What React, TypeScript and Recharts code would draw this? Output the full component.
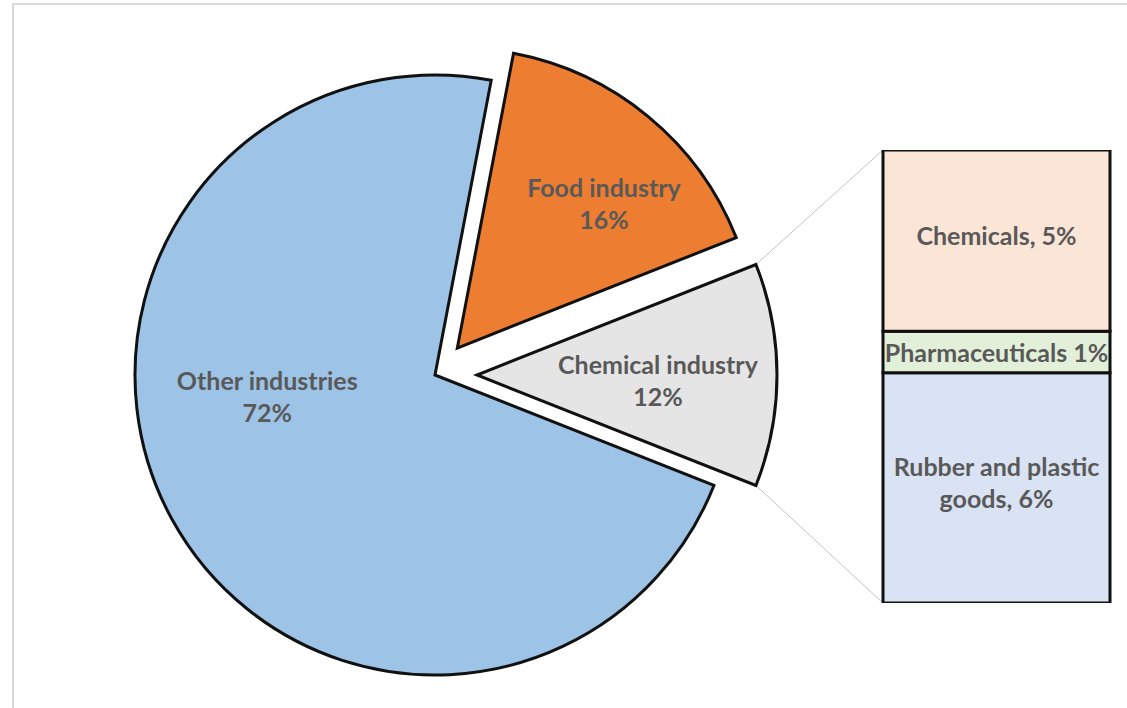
import { PieChart, Pie, Cell, BarChart, Bar, XAxis, YAxis, LabelList } from 'recharts'

const PIE_NAMES = ['Chemical industry', 'Food industry', 'Other industries']
const PIE_VALUES = [12, 16, 72]
const PIE_COLORS = ['#e6e5e5', '#ed7d31', '#9dc3e6']

// stacked bottom -> top
const BAR_NAMES = ['Rubber and plastic goods', 'Pharmaceuticals', 'Chemicals']
const BAR_VALUES = [6.1, 1.1, 4.8]
const BAR_LABELS = [['Rubber and plastic', 'goods, 6%'], ['Pharmaceuticals 1%'], ['Chemicals, 5%']]
const BAR_COLORS = ['#dae3f3', '#e2f0d9', '#fbe5d6']

const W = 1127
const H = 708
const CX = 435
const CY = 375
const R = 300
const EXPLODE = [42, 35, 0]
// label anchor relative to each slice apex: angle (deg), distance (px)
const LABEL_POS = [
  { angle: -1.6, dist: 181 },
  { angle: 44.6, dist: 206 },
  { angle: 187, dist: 169 },
]
const BAR_BOX = { left: 883, top: 150, width: 227, height: 453 }
const TEXT = '#595959'
const FONT = 'Lato, "Open Sans", sans-serif'
const FS = 25
const EDGE = '#111'
const EDGE_W = 3

const pieTotal = PIE_VALUES.reduce((a, b) => a + b, 0)
const START = -(PIE_VALUES[0] / pieTotal) * 180
const rad = (d: number) => (d * Math.PI) / 180

const mids = PIE_VALUES.map((v, i) => {
  const before = PIE_VALUES.slice(0, i).reduce((a, b) => a + b, 0)
  return START + ((before + v / 2) / pieTotal) * 360
})
const centers = mids.map((m, i) => ({
  x: CX + EXPLODE[i] * Math.cos(rad(m)),
  y: CY - EXPLODE[i] * Math.sin(rad(m)),
}))

const pieData = PIE_NAMES.map((name, i) => ({ name, value: PIE_VALUES[i] }))

const barRow: Record<string, number | string> = { name: PIE_NAMES[0] }
BAR_NAMES.forEach((n, i) => (barRow[n] = BAR_VALUES[i]))
const barTotal = BAR_VALUES.reduce((a, b) => a + b, 0)

function PieLabel(k: number) {
  return (p: any) => {
    if (p.index !== k) return null
    const c = centers[k]
    const { angle, dist } = LABEL_POS[k]
    const x = c.x + dist * Math.cos(rad(angle))
    const y = c.y - dist * Math.sin(rad(angle))
    return (
      <text x={x} y={y} textAnchor="middle" fill={TEXT} fontFamily={FONT} fontWeight={700} fontSize={FS}>
        <tspan x={x} y={y - 16} dominantBaseline="central">{PIE_NAMES[k]}</tspan>
        <tspan x={x} y={y + 16} dominantBaseline="central">{`${PIE_VALUES[k]}%`}</tspan>
      </text>
    )
  }
}

function BarLabel(i: number) {
  return (p: any) => {
    const lines = BAR_LABELS[i]
    const x = p.x + p.width / 2
    const cy = p.y + p.height / 2 - (lines.length > 1 || i === 2 ? 6 : 0)
    const gap = 32
    return (
      <text x={x} y={cy} textAnchor="middle" fill={TEXT} fontFamily={FONT} fontWeight={700} fontSize={FS}>
        {lines.map((l, j) => (
          <tspan key={j} x={x} y={cy + (j - (lines.length - 1) / 2) * gap} dominantBaseline="central">
            {l}
          </tspan>
        ))}
      </text>
    )
  }
}

export default function App() {
  const chemStart = START
  const chemEnd = START + (PIE_VALUES[0] / pieTotal) * 360
  const c0 = centers[0]
  const top = { x: c0.x + R * Math.cos(rad(chemEnd)), y: c0.y - R * Math.sin(rad(chemEnd)) }
  const bottom = { x: c0.x + R * Math.cos(rad(chemStart)), y: c0.y - R * Math.sin(rad(chemStart)) }

  return (
    <div style={{ position: 'relative', width: W, height: H, overflow: 'hidden', background: '#fff' }}>
      <style>{'body{margin:0}'}</style>
      <div
        style={{
          position: 'absolute',
          left: 12,
          top: 3,
          width: 1300,
          height: 900,
          border: '2px solid #d9d9d9',
        }}
      />
      <svg width={W} height={H} style={{ position: 'absolute', left: 0, top: 0 }}>
        <line x1={top.x} y1={top.y} x2={BAR_BOX.left} y2={BAR_BOX.top} stroke="#c4c4c4" strokeWidth={1} />
        <line x1={bottom.x} y1={bottom.y} x2={BAR_BOX.left} y2={BAR_BOX.top + BAR_BOX.height} stroke="#c4c4c4" strokeWidth={1} />
      </svg>
      <div style={{ position: 'absolute', left: 0, top: 0 }}>
        <PieChart width={W} height={H} margin={{ top: 0, right: 0, bottom: 0, left: 0 }}>
          {PIE_NAMES.map((_, k) => (
            <Pie
              key={k}
              data={pieData}
              dataKey="value"
              nameKey="name"
              cx={centers[k].x}
              cy={centers[k].y}
              innerRadius={0}
              outerRadius={R}
              startAngle={START}
              endAngle={START + 360}
              label={PieLabel(k)}
              labelLine={false}
              isAnimationActive={false}
            >
              {pieData.map((d, i) => (
                <Cell
                  key={d.name}
                  fill={i === k ? PIE_COLORS[i] : 'none'}
                  stroke={i === k ? EDGE : 'none'}
                  strokeWidth={EDGE_W}
                />
              ))}
            </Pie>
          ))}
        </PieChart>
      </div>
      <div style={{ position: 'absolute', left: BAR_BOX.left - 2, top: BAR_BOX.top - 2 }}>
        <BarChart
          width={BAR_BOX.width + 4}
          height={BAR_BOX.height + 4}
          data={[barRow]}
          margin={{ top: 2, right: 2, bottom: 2, left: 2 }}
          barCategoryGap={0}
        >
          <XAxis dataKey="name" hide />
          <YAxis type="number" domain={[0, barTotal]} hide allowDataOverflow />
          {BAR_NAMES.map((n, i) => (
            <Bar
              key={n}
              dataKey={n}
              stackId="a"
              fill={BAR_COLORS[i]}
              stroke={EDGE}
              strokeWidth={EDGE_W}
              isAnimationActive={false}
            >
              <LabelList dataKey={n} content={BarLabel(i)} />
            </Bar>
          ))}
        </BarChart>
      </div>
    </div>
  )
}
